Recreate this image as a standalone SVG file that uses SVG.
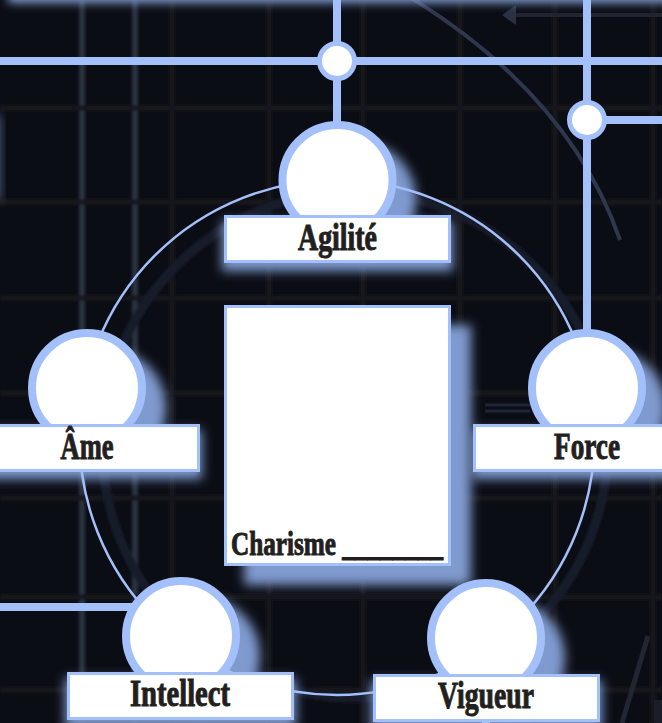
<svg xmlns="http://www.w3.org/2000/svg" width="662" height="723" viewBox="0 0 662 723">
<defs>
<filter id="blur2" filterUnits="userSpaceOnUse" x="-20" y="-20" width="702" height="763"><feGaussianBlur stdDeviation="1.500"/></filter>
<filter id="bandblur" filterUnits="userSpaceOnUse" x="-40" y="-60" width="742" height="110"><feGaussianBlur stdDeviation="5"/></filter>
<filter id="soft" x="-30%" y="-30%" width="160%" height="160%"><feGaussianBlur stdDeviation="5.500"/></filter>
<filter id="glow" x="-20%" y="-60%" width="140%" height="220%"><feGaussianBlur stdDeviation="5.500"/></filter>
</defs>
<style>
.bg{fill:#0b0d14}
.conn{stroke:#a3c0fb;stroke-width:8;fill:none}
.ring{stroke:#a3c0fb;stroke-width:2.500;fill:none}
.c{fill:#fff;stroke:#a3c0fb;stroke-width:8}
.j{fill:#fff;stroke:#a3c0fb;stroke-width:5}
.r{fill:#fff;stroke:#a3c0fb;stroke-width:3}
.sh{fill:#7f9ace}
text{font-family:"Liberation Serif","Times New Roman",serif;font-weight:700;fill:#231f20;stroke:#231f20;stroke-width:1;font-size:37px;text-anchor:middle}
</style>
<rect class="bg" width="662" height="723"/>
<g id="backdrop">
<g filter="url(#blur2)" fill="none">
<path stroke="#2b3041" stroke-width="6" d="M82 0V723M135 0V723"/>
<path stroke="#14161d" stroke-width="5" d="M172 0V723M269 0V723M363 0V723M460 0V723M555 0V723M653 0V723"/>
<path stroke="#14151c" stroke-width="5" d="M0 108H662M0 202H662M0 298H662M0 393H662M0 498H662M0 597H662M0 690H662"/>
<circle cx="355" cy="445" r="253" stroke="#181e2b" stroke-width="9"/>
</g>
<path d="M408 -4Q570 95 620 240" fill="none" stroke="#2e374d" stroke-width="4"/>
<path d="M506 15H662" stroke="#22252f" stroke-width="4" fill="none"/>
<path d="M502 15L516 5V25Z" fill="#2a3144"/>
<path d="M485 405H530M485 411H530" stroke="#20243a" stroke-width="3" fill="none"/>
<path d="M648 636L622 723" stroke="#222633" stroke-width="5" fill="none"/>
<rect x="654" y="700" width="8" height="23" fill="#1b1e29"/>
<rect x="8" y="-30" width="680" height="33" fill="#7f9ace" filter="url(#bandblur)"/>
<rect x="-20" y="115" width="20" height="85" fill="#7f9ace" opacity=".6" filter="url(#soft)"/>
</g>
<g id="shadows">
<circle class="sh" cx="357" cy="200" r="59" filter="url(#soft)"/>
<circle class="sh" cx="107" cy="408" r="59" filter="url(#soft)"/>
<circle class="sh" cx="607" cy="408" r="59" filter="url(#soft)"/>
<circle class="sh" cx="201" cy="656" r="59" filter="url(#soft)"/>
<circle class="sh" cx="506" cy="658" r="59" filter="url(#soft)"/>
<rect class="sh" x="244" y="325" width="227" height="260" filter="url(#soft)"/>
<rect class="sh" x="222" y="221" width="231" height="50" filter="url(#glow)"/>
<rect class="sh" x="-29" y="430" width="231" height="49" filter="url(#glow)"/>
<rect class="sh" x="472" y="430" width="231" height="49" filter="url(#glow)"/>
<rect class="sh" x="65" y="678" width="231" height="50" filter="url(#glow)"/>
<rect class="sh" x="371" y="680" width="231" height="50" filter="url(#glow)"/>
</g>
<g id="connectors">
<path class="conn" d="M0 61H662M337 0V125M587 0V335M587 120H662M0 607H135M486 715V723"/>
<circle class="ring" cx="337" cy="437.500" r="257.500"/>
</g>
<g id="node-j1"><circle class="j" cx="337" cy="61" r="17.500"/></g>
<g id="node-j2"><circle class="j" cx="587" cy="120" r="17.500"/></g>
<g id="node-agilite">
<circle class="c" cx="337.500" cy="180" r="55"/>
<rect class="r" x="225.500" y="216.500" width="224" height="45"/>
<text x="337.500" y="250" textLength="79" lengthAdjust="spacingAndGlyphs">Agilité</text>
</g>
<g id="node-ame">
<circle class="c" cx="87" cy="388" r="55"/>
<rect class="r" x="-26" y="425.500" width="224.500" height="45"/>
<text x="87" y="459" textLength="53" lengthAdjust="spacingAndGlyphs">Âme</text>
</g>
<g id="node-force">
<circle class="c" cx="587" cy="388" r="55"/>
<rect class="r" x="474.500" y="425.500" width="224.500" height="45"/>
<text x="587" y="459" textLength="66" lengthAdjust="spacingAndGlyphs">Force</text>
</g>
<g id="node-intellect">
<circle class="c" cx="181" cy="636" r="55"/>
<rect class="r" x="68.500" y="673.500" width="224" height="45"/>
<text x="180" y="706" textLength="100" lengthAdjust="spacingAndGlyphs">Intellect</text>
</g>
<g id="node-vigueur">
<circle class="c" cx="486" cy="638" r="55"/>
<rect class="r" x="374.500" y="675.500" width="224" height="45"/>
<text x="486" y="708" textLength="96" lengthAdjust="spacingAndGlyphs">Vigueur</text>
</g>
<g id="node-charisme">
<rect class="r" x="225.500" y="306.500" width="224" height="258"/>
<text x="231" y="555" style="font-size:34px;text-anchor:start" textLength="212" lengthAdjust="spacingAndGlyphs">Charisme ________</text>
</g>
</svg>
